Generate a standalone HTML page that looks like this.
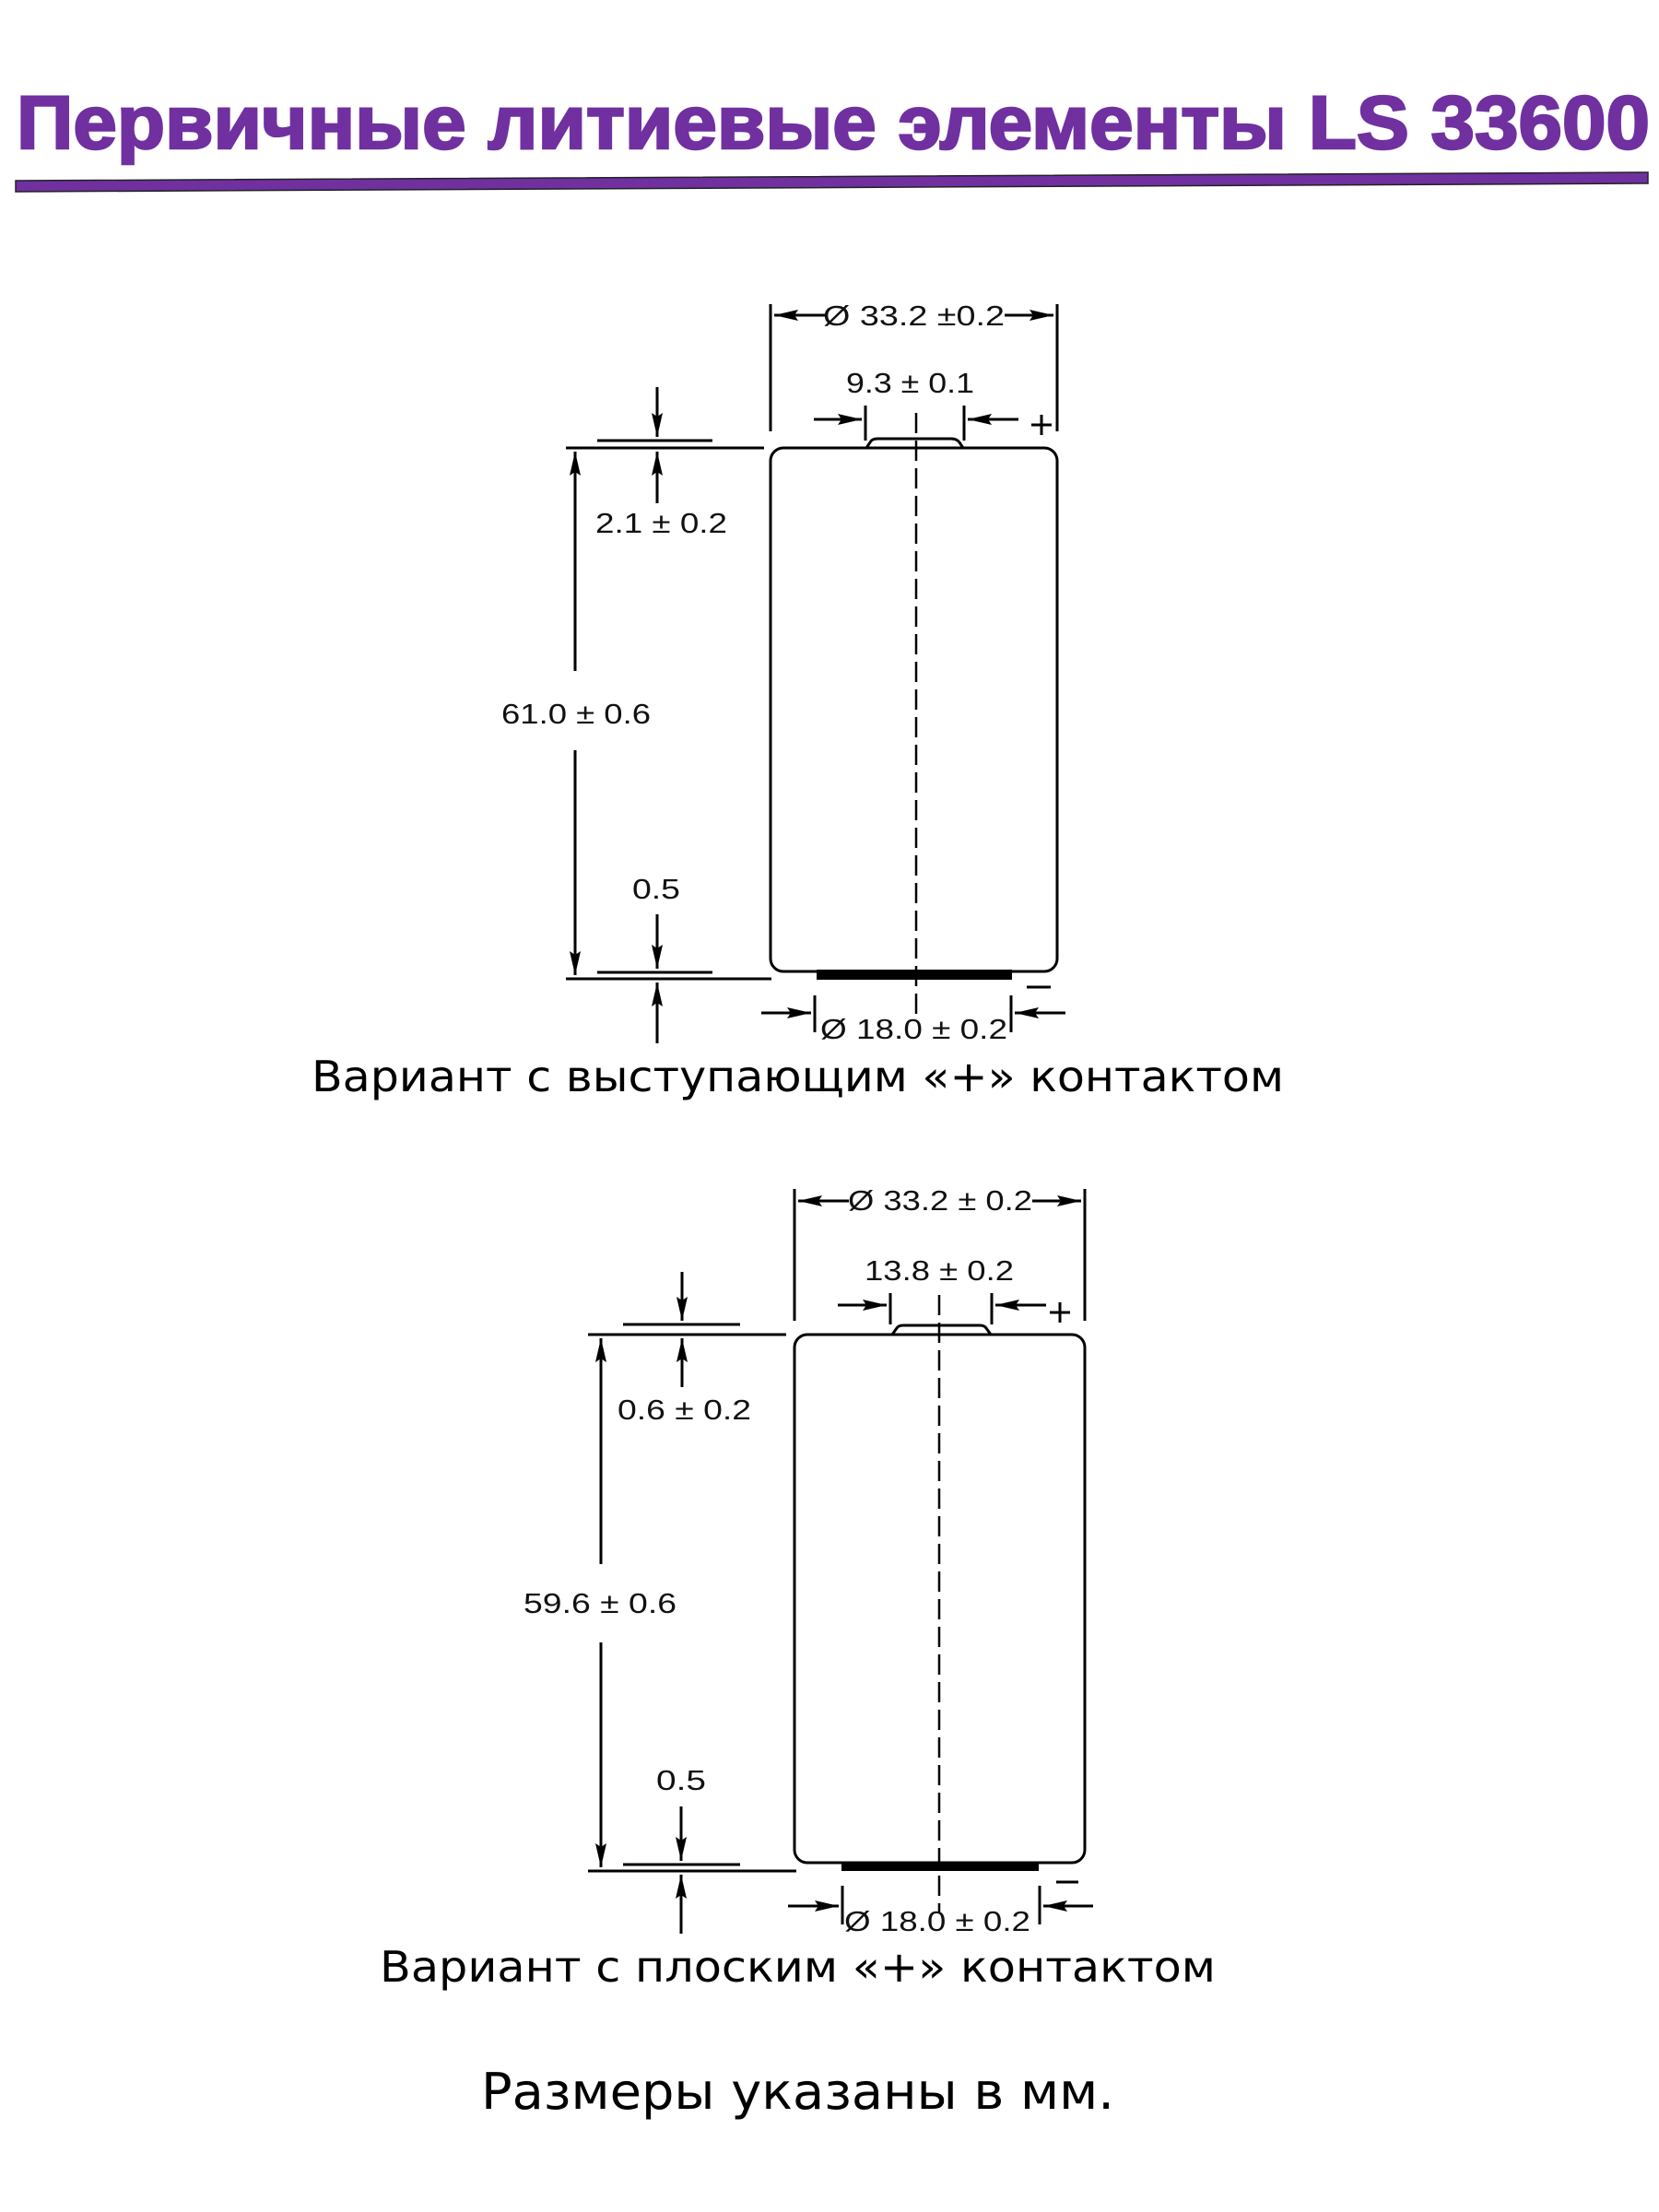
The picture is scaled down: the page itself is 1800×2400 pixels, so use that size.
<!DOCTYPE html>
<html><head><meta charset="utf-8"><style>
html,body{margin:0;padding:0;background:#fff;}
svg{display:block;}
.d{font-family:"Liberation Sans",sans-serif;font-size:31px;fill:#111;}
.c{font-family:"DejaVu Sans","Liberation Sans",sans-serif;fill:#000;}
</style></head><body>
<svg width="1800" height="2400" viewBox="0 0 1800 2400" xmlns="http://www.w3.org/2000/svg">
<defs>
<marker id="a" viewBox="0 0 26 12" refX="26" refY="6" markerWidth="26" markerHeight="12" markerUnits="userSpaceOnUse" orient="auto">
<path d="M0,0 L26,6 L0,12 L4,6 Z" fill="#000"/>
</marker>
</defs>
<!-- Title -->
<text x="18" y="161" font-family="Liberation Sans,sans-serif" font-weight="bold" font-size="82" fill="#7030a0" textLength="1772" lengthAdjust="spacingAndGlyphs" stroke="#7030a0" stroke-width="2.5">Первичные литиевые элементы LS 33600</text>
<polygon points="17,196 1788,187 1788,199 17,208" fill="#7030a0" stroke="#222" stroke-width="1.5"/>

<g stroke="#000" stroke-width="3" fill="none">
<!-- TOP DIAGRAM -->
<line x1="836" y1="330" x2="836" y2="468"/>
<line x1="1147" y1="330" x2="1147" y2="468"/>
<line x1="895" y1="342" x2="840" y2="342" marker-end="url(#a)"/>
<line x1="1090" y1="342" x2="1143" y2="342" marker-end="url(#a)"/>
<line x1="939" y1="440" x2="939" y2="478"/>
<line x1="1046" y1="440" x2="1046" y2="478"/>
<line x1="883" y1="455" x2="935" y2="455" marker-end="url(#a)"/>
<line x1="1105" y1="455" x2="1050" y2="455" marker-end="url(#a)"/>
<path d="M940,486 L944,480 Q946,476 952,476 L1032,476 Q1038,476 1041,480 L1045,486"/>
<rect x="836" y="486" width="311" height="568" rx="14"/>
<line x1="994" y1="448" x2="994" y2="1108" stroke-width="2.5" stroke-dasharray="22,8"/>
<!-- left -->
<line x1="614" y1="486" x2="829" y2="486"/>
<line x1="648" y1="478" x2="773" y2="478"/>
<line x1="713" y1="420" x2="713" y2="474" marker-end="url(#a)"/>
<line x1="713" y1="546" x2="713" y2="490" marker-end="url(#a)"/>
<line x1="624" y1="728" x2="624" y2="490" marker-end="url(#a)"/>
<line x1="624" y1="814" x2="624" y2="1058" marker-end="url(#a)"/>
<line x1="614" y1="1062" x2="837" y2="1062"/>
<line x1="648" y1="1055" x2="773" y2="1055"/>
<line x1="713" y1="992" x2="713" y2="1051" marker-end="url(#a)"/>
<line x1="713" y1="1132" x2="713" y2="1066" marker-end="url(#a)"/>
<!-- bottom -->
<line x1="884" y1="1080" x2="884" y2="1120"/>
<line x1="1097" y1="1080" x2="1097" y2="1120"/>
<line x1="826" y1="1099" x2="880" y2="1099" marker-end="url(#a)"/>
<line x1="1156" y1="1099" x2="1101" y2="1099" marker-end="url(#a)"/>
<line x1="1114" y1="1071" x2="1140" y2="1071"/>
<line x1="1119" y1="461" x2="1141" y2="461"/><line x1="1130" y1="450" x2="1130" y2="472"/>

<!-- BOTTOM DIAGRAM -->
<line x1="862" y1="1290" x2="862" y2="1433"/>
<line x1="1177" y1="1290" x2="1177" y2="1433"/>
<line x1="921" y1="1303" x2="866" y2="1303" marker-end="url(#a)"/>
<line x1="1120" y1="1303" x2="1173" y2="1303" marker-end="url(#a)"/>
<line x1="966" y1="1403" x2="966" y2="1437"/>
<line x1="1076" y1="1403" x2="1076" y2="1437"/>
<line x1="909" y1="1416" x2="962" y2="1416" marker-end="url(#a)"/>
<line x1="1135" y1="1416" x2="1080" y2="1416" marker-end="url(#a)"/>
<path d="M968,1448 L973,1441 Q975,1438 980,1438 L1063,1438 Q1068,1438 1070,1441 L1075,1448"/>
<rect x="862" y="1448" width="315" height="573" rx="14"/>
<line x1="1019" y1="1405" x2="1019" y2="2075" stroke-width="2.5" stroke-dasharray="22,8"/>
<line x1="638" y1="1448" x2="853" y2="1448"/>
<line x1="676" y1="1437" x2="803" y2="1437"/>
<line x1="740" y1="1380" x2="740" y2="1433" marker-end="url(#a)"/>
<line x1="740" y1="1505" x2="740" y2="1452" marker-end="url(#a)"/>
<line x1="652" y1="1697" x2="652" y2="1452" marker-end="url(#a)"/>
<line x1="652" y1="1782" x2="652" y2="2026" marker-end="url(#a)"/>
<line x1="638" y1="2030" x2="864" y2="2030"/>
<line x1="676" y1="2023" x2="803" y2="2023"/>
<line x1="739" y1="1960" x2="739" y2="2019" marker-end="url(#a)"/>
<line x1="739" y1="2098" x2="739" y2="2034" marker-end="url(#a)"/>
<line x1="914" y1="2046" x2="914" y2="2088"/>
<line x1="1128" y1="2046" x2="1128" y2="2088"/>
<line x1="855" y1="2068" x2="910" y2="2068" marker-end="url(#a)"/>
<line x1="1186" y1="2068" x2="1132" y2="2068" marker-end="url(#a)"/>
<line x1="1146" y1="2042" x2="1170" y2="2042"/>
<line x1="1139" y1="1424" x2="1161" y2="1424"/><line x1="1150" y1="1413" x2="1150" y2="1435"/>
</g>
<rect x="886" y="1052" width="212" height="11" fill="#000"/>
<rect x="913" y="2020" width="214" height="10" fill="#000"/>

<!-- dimension text -->
<text class="d" x="893" y="353" textLength="197" lengthAdjust="spacingAndGlyphs">Ø 33.2 ±0.2</text>
<text class="d" x="918" y="426" textLength="139" lengthAdjust="spacingAndGlyphs">9.3 ± 0.1</text>
<text class="d" x="646" y="578" textLength="143" lengthAdjust="spacingAndGlyphs">2.1 ± 0.2</text>
<text class="d" x="544" y="785" textLength="162" lengthAdjust="spacingAndGlyphs">61.0 ± 0.6</text>
<text class="d" x="686" y="975" textLength="52" lengthAdjust="spacingAndGlyphs">0.5</text>
<text class="d" x="890" y="1127" textLength="203" lengthAdjust="spacingAndGlyphs">Ø 18.0 ± 0.2</text>
<text class="c" x="338" y="1184" font-size="46" textLength="1055" lengthAdjust="spacingAndGlyphs">Вариант с выступающим «+» контактом</text>

<text class="d" x="920" y="1313" textLength="200" lengthAdjust="spacingAndGlyphs">Ø 33.2 ± 0.2</text>
<text class="d" x="938" y="1389" textLength="162" lengthAdjust="spacingAndGlyphs">13.8 ± 0.2</text>
<text class="d" x="670" y="1540" textLength="145" lengthAdjust="spacingAndGlyphs">0.6 ± 0.2</text>
<text class="d" x="568" y="1750" textLength="166" lengthAdjust="spacingAndGlyphs">59.6 ± 0.6</text>
<text class="d" x="712" y="1942" textLength="54" lengthAdjust="spacingAndGlyphs">0.5</text>
<text class="d" x="916" y="2095" textLength="202" lengthAdjust="spacingAndGlyphs">Ø 18.0 ± 0.2</text>
<text class="c" x="412" y="2150" font-size="46" textLength="907" lengthAdjust="spacingAndGlyphs">Вариант с плоским «+» контактом</text>
<text class="c" x="522" y="2288" font-size="54" textLength="687" lengthAdjust="spacingAndGlyphs">Размеры указаны в мм.</text>
</svg>
</body></html>
